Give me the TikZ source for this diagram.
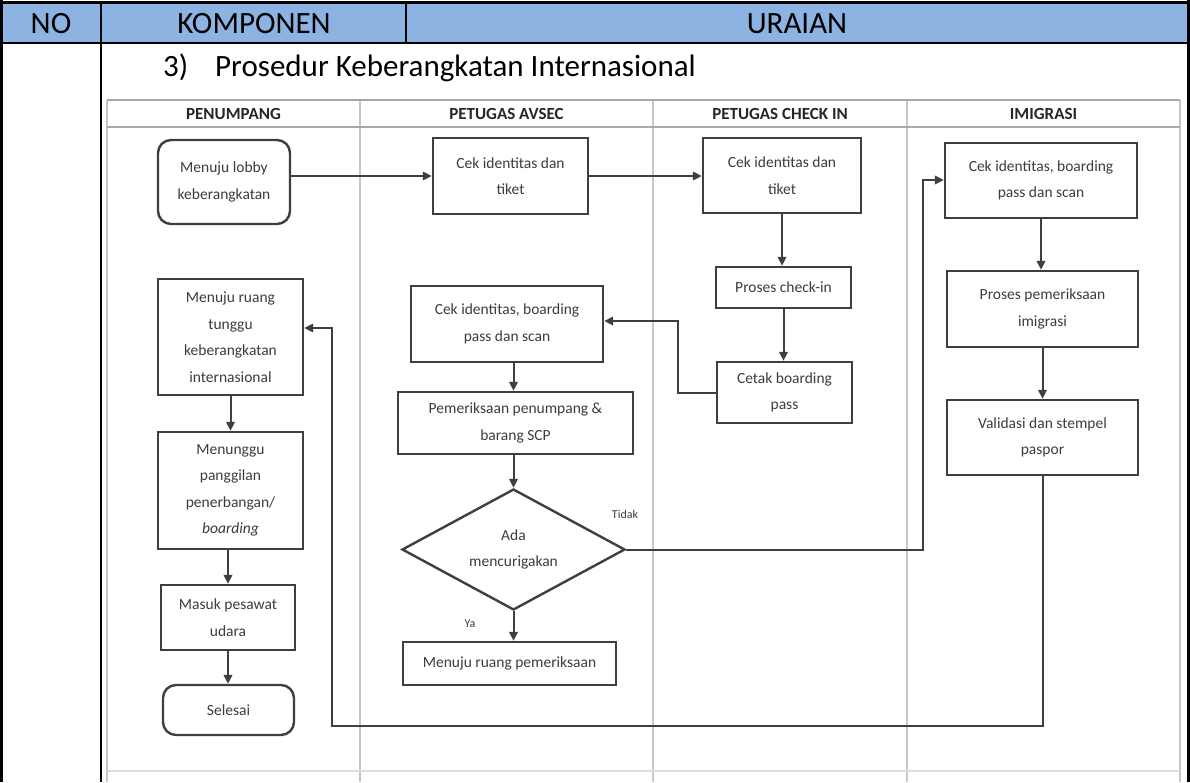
\documentclass[tikz,border=0pt]{standalone}
\usepackage{fontspec}
\setmainfont{Carlito}
\usetikzlibrary{arrows.meta,shapes.geometric}

\definecolor{hdrblue}{HTML}{8DB3E2}
\definecolor{lineC}{HTML}{3F3F3F}
\definecolor{txtC}{HTML}{3C3C3C}
\definecolor{headC}{HTML}{262626}
\definecolor{laneC}{HTML}{C6C6C6}
\definecolor{frameC}{HTML}{A8A8A8}

\begin{document}
\begin{tikzpicture}[x=1pt,y=-1pt,
  box/.style={draw=lineC, line width=2.4pt, fill=white, align=center, inner sep=0pt,
              text=txtC, font=\fontsize{15.5}{26.5}\selectfont},
  rbox/.style={box, rounded corners=13pt},
  decision/.style={box, diamond, shape aspect=1.84},
  arr/.style={draw=lineC, line width=2pt, -{Triangle[length=9pt,width=8.5pt]}},
  lane/.style={draw=laneC, line width=1.5pt},
  frameline/.style={draw=frameC, line width=1.8pt},
  lanehead/.style={font=\bfseries\fontsize{17}{20}\selectfont, text=headC},
  cond/.style={font=\fontsize{12}{14}\selectfont, text=txtC},
  tabline/.style={draw=black, line width=2.5pt},
  tabtext/.style={font=\fontsize{31}{36}\selectfont, text=black, inner sep=0pt},
]
\useasboundingbox (0,0) rectangle (1190,782);

% ---- table: header row and frame ----
\fill[hdrblue] (1.5,2.5) rectangle (1188.5,43);
\draw[tabline] (0,2.5) -- (1190,2.5);
\draw[tabline, line width=2pt] (1.5,43) -- (1188.5,43);
\draw[tabline] (1.5,0) -- (1.5,782);
\draw[tabline] (1188.5,0) -- (1188.5,782);
\draw[tabline] (101,2.5) -- (101,782);
\draw[tabline, line width=2pt] (406,2.5) -- (406,43);

\node[tabtext] (tno) at (51,24) {NO};
\node[tabtext] (tkomp) at (254,24) {KOMPONEN};
\node[tabtext] (turai) at (797,24) {URAIAN};
\node[tabtext, anchor=base west] (tnum) at (163,76) {3)};
\node[tabtext, anchor=base west] (ttitle) at (215,76) {Prosedur Keberangkatan Internasional};

% ---- swimlanes ----
\draw[lane] (107,100) -- (107,782);
\draw[lane] (1180,100) -- (1180,782);
\draw[lane] (360,100) -- (360,782);
\draw[lane] (653,100) -- (653,782);
\draw[lane] (907,100) -- (907,782);
\draw[lane, draw=laneC!60] (107,771) -- (1180,771);
\draw[frameline] (107,100) -- (1180,100);
\draw[frameline] (107,127) -- (1180,127);

\node[lanehead] (hpax) at (233.5,113.5) {PENUMPANG};
\node[lanehead] (havs) at (506.5,113.5) {PETUGAS AVSEC};
\node[lanehead] (hchk) at (780,113.5) {PETUGAS CHECK IN};
\node[lanehead] (himm) at (1043.5,113.5) {IMIGRASI};

% ---- passenger lane ----
\node[rbox, minimum width=132pt, minimum height=84pt] (lobby) at (224,182) {Menuju lobby\\keberangkatan};
\node[box, minimum width=145pt, minimum height=116pt] (pax2) at (230.5,337) {Menuju ruang\\tunggu\\keberangkatan\\internasional};
\node[box, minimum width=145pt, minimum height=117pt] (pax3) at (230.5,490.5) {Menunggu\\panggilan\\penerbangan/\\\textit{boarding}};
\node[box, minimum width=134pt, minimum height=65pt] (pax4) at (228,617.5) {Masuk pesawat\\udara};
\node[rbox, minimum width=131pt, minimum height=50pt] (pax5) at (228.5,710) {Selesai};

% ---- AVSEC lane ----
\node[box, minimum width=155pt, minimum height=76pt] (avs1) at (510.5,176) {Cek identitas dan\\tiket};
\node[box, minimum width=192pt, minimum height=76pt] (avs2) at (507,324) {Cek identitas, boarding\\pass dan scan};
\node[box, minimum width=235pt, minimum height=62pt] (avs3) at (515.5,423) {Pemeriksaan penumpang \&\\barang SCP};
\node[decision, minimum width=223pt, minimum height=121pt] (dec) at (513.5,549.5) {Ada\\mencurigakan};
\node[box, minimum width=213pt, minimum height=43pt] (avs4) at (509.5,663.5) {Menuju ruang pemeriksaan};

% ---- check-in lane ----
\node[box, minimum width=158pt, minimum height=75pt] (chk1) at (782,175.5) {Cek identitas dan\\tiket};
\node[box, minimum width=135pt, minimum height=41pt] (chk2) at (783.5,287.5) {Proses check-in};
\node[box, minimum width=135pt, minimum height=61pt] (chk3) at (784.5,392.5) {Cetak boarding\\pass};

% ---- immigration lane ----
\node[box, minimum width=192pt, minimum height=75pt] (imm1) at (1041,180.5) {Cek identitas, boarding\\pass dan scan};
\node[box, minimum width=191pt, minimum height=76pt] (imm2) at (1042.5,309) {Proses pemeriksaan\\imigrasi};
\node[box, minimum width=191pt, minimum height=75pt] (imm3) at (1042.5,437.5) {Validasi dan stempel\\paspor};

% ---- branch labels ----
\node[cond] (tidak) at (625,514) {Tidak};
\node[cond] (ya) at (470,624) {Ya};

% ---- bend points ----
\coordinate (cb) at (678,321);
\coordinate (tk) at (923,180);
\coordinate (rb) at (332,726);
\coordinate (rt) at (332,328);

% ---- connectors ----
\draw[arr] (lobby.east |- avs1.west) -- (avs1.west);
\draw[arr] (avs1.east) -- (avs1.east -| chk1.west);
\draw[arr] (chk1.south) -- (chk1.south |- chk2.north);
\draw[arr] (chk2.south) -- (chk2.south |- chk3.north);
\draw[arr] (chk3.west) -| (cb) -- (cb -| avs2.east);
\draw[arr] (avs2.south -| dec) -- (avs3.north -| dec);
\draw[arr] (avs3.south -| dec) -- (dec.north);
\draw[arr] (dec.south) -- (avs4.north -| dec);
\draw[arr] (dec.east) -| (tk) -- (tk -| imm1.west);
\draw[arr] (imm1.south) -- (imm1.south |- imm2.north);
\draw[arr] (imm2.south) -- (imm3.north);
\draw[arr] (imm3.south) |- (rb) -- (rt) -- (rt -| pax2.east);
\draw[arr] (pax2.south) -- (pax3.north);
\draw[arr] (pax4.north |- pax3.south) -- (pax4.north);
\draw[arr] (pax4.south) -- (pax4.south |- pax5.north);
\end{tikzpicture}
\end{document}
